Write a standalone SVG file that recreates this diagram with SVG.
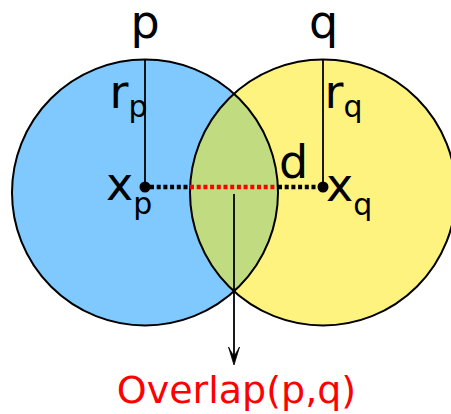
<svg xmlns="http://www.w3.org/2000/svg" width="451" height="414" viewBox="0 0 451 414">
<style>
text{font-family:"DejaVu Sans","Liberation Sans",sans-serif;fill:#000}
.lbl{font-size:46px}
.sub{font-size:30px}
.ring{fill:none;stroke:#000;stroke-width:2}
.rad{stroke:#000;stroke-width:1.8}
.dot{fill:#000}
.dash{stroke-width:4.5;stroke-dasharray:4,2.7}
.head{fill:#000;stroke:#000;stroke-width:0.8;stroke-linejoin:miter}
</style>
<g id="circle-p">
<circle cx="145" cy="192.5" r="133" fill="#80c9ff"/>
</g>
<g id="circle-q">
<circle cx="323" cy="192.5" r="133" fill="#fff37f"/>
</g>
<g id="overlap">
<path d="M234,93.7 A133,133 0 0 0 234,291.3 A133,133 0 0 0 234,93.7 Z" fill="#c1dc80"/>
</g>
<g id="outlines">
<circle class="ring" cx="145" cy="192.5" r="133"/>
<circle class="ring" cx="323" cy="192.5" r="133"/>
</g>
<g id="connectors">
<line class="rad" x1="145" y1="59.5" x2="145" y2="187"/>
<line class="rad" x1="323" y1="59.5" x2="323" y2="187"/>
<line class="dash" x1="150" y1="187" x2="190" y2="187" stroke="#000"/>
<line class="dash" x1="190" y1="187" x2="277" y2="187" stroke="#ff0000"/>
<line class="dash" x1="278" y1="187" x2="318" y2="187" stroke="#000"/>
<line x1="234" y1="194" x2="234" y2="357" stroke="#000" stroke-width="1.8"/>
<path class="head" d="M234,365 L228.5,347 Q233,355 234,356 Q235,355 239.5,347 Z"/>
</g>
<g id="node-xp">
<circle class="dot" cx="145" cy="187" r="5.5"/>
<text class="lbl" x="106" y="200">x<tspan class="sub" dy="14">p</tspan></text>
</g>
<g id="node-xq">
<circle class="dot" cx="323" cy="187" r="5.5"/>
<text class="lbl" x="326" y="201">x<tspan class="sub" dy="14">q</tspan></text>
</g>
<g id="labels">
<text class="lbl" x="145" y="38" text-anchor="middle">p</text>
<text class="lbl" x="323.5" y="38" text-anchor="middle">q</text>
<text class="lbl" x="109.5" y="108">r<tspan class="sub" dy="9">p</tspan></text>
<text class="lbl" x="324.5" y="108">r<tspan class="sub" dy="9">q</tspan></text>
<text class="lbl" x="279" y="178">d</text>
<text x="236.5" y="403" text-anchor="middle" style="font-size:38px;fill:#ff0000">Overlap(p,q)</text>
</g>
</svg>
